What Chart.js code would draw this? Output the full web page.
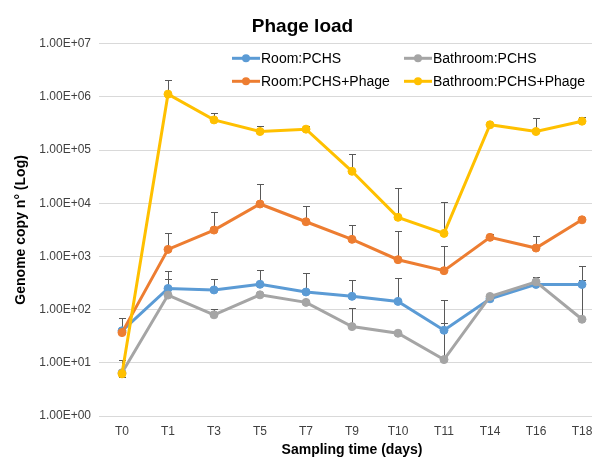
<!DOCTYPE html>
<html>
<head>
<meta charset="utf-8">
<script src="https://cdn.jsdelivr.net/npm/chart.js@4/dist/chart.umd.min.js"></script>
<style>
  html, body { margin: 0; padding: 0; background: #fff; overflow: hidden; }
  #wrap { position: relative; width: 615px; height: 458px; }
</style>
</head>
<body>
<div id="wrap"><canvas id="c" width="615" height="458"></canvas></div>
<script>
// ---- data ----
const categories = ["T0","T1","T3","T5","T7","T9","T10","T11","T14","T16","T18"];
const seriesNames = ["Room:PCHS","Bathroom:PCHS","Room:PCHS+Phage","Bathroom:PCHS+Phage"];
const roomPchs        = [40, 250, 235, 300, 215, 178, 143, 41, 160, 298, 298];
const bathroomPchs    = [6.5, 188, 80, 190, 137, 48, 36, 11.5, 177, 334, 66];
const roomPhage       = [37, 1360, 3140, 9700, 4500, 2100, 870, 540, 2290, 1440, 4900];
const bathroomPhage   = [6.2, 1130000, 370000, 224000, 248000, 40000, 5450, 2720, 300000, 224000, 350000];
// error bar upper / lower bounds (null = none)
const roomPchsHi      = [null, 530, 375, 555, 480, 355, 398, 151, null, null, 668];
const bathroomPchsHi  = [11.5, 371, 103, null, null, 108, null, 56, null, 404, 359];
const bathroomPchsLo  = [5.3, null, null, null, null, null, null, null, null, null, null];
const roomPhageHi     = [71, 2720, 6760, 22800, 9070, 3960, 3010, 1550, 2630, 2420, null];
const bathroomPhageHi = [null, 2100000, 510000, 280000, 290000, 86000, 19700, 10700, null, 410000, 420000];
const yTickValues = [1, 10, 100, 1000, 10000, 100000, 1000000, 10000000];
const yTickLabels = ["1.00E+00","1.00E+01","1.00E+02","1.00E+03","1.00E+04","1.00E+05","1.00E+06","1.00E+07"];
const colors = ["#5B9BD5", "#A5A5A5", "#ED7D31", "#FFC000"];

const values = [roomPchs, bathroomPchs, roomPhage, bathroomPhage];
const highs = [roomPchsHi, bathroomPchsHi, roomPhageHi, bathroomPhageHi];
const lows = [null, bathroomPchsLo, null, null];

const FONT = "'Liberation Sans', Arial, sans-serif";

const errorBars = {
  id: 'errorBars',
  beforeDatasetsDraw(chart) {
    const ctx = chart.ctx;
    const x = chart.scales.x, y = chart.scales.y;
    ctx.save();
    ctx.strokeStyle = '#595959';
    ctx.lineWidth = 1;
    [0,1,2,3].forEach(d => {
      const vals = values[d];
      const hi = highs[d], lo = lows[d];
      vals.forEach((v, i) => {
        const px = Math.round(x.getPixelForValue(i)) + 0.5;
        const py = y.getPixelForValue(v);
        const ends = [];
        if (hi && hi[i] != null) ends.push(y.getPixelForValue(hi[i]));
        if (lo && lo[i] != null) ends.push(y.getPixelForValue(lo[i]));
        ends.forEach(ey => {
          const eY = Math.round(ey) + 0.5;
          ctx.beginPath();
          ctx.moveTo(px, py);
          ctx.lineTo(px, eY);
          ctx.moveTo(px - 3.5, eY);
          ctx.lineTo(px + 3.5, eY);
          ctx.stroke();
        });
      });
    });
    ctx.restore();
  }
};

const customLegend = {
  id: 'customLegend',
  afterDraw(chart) {
    const ctx = chart.ctx;
    const a = chart.chartArea;
    const colX = [a.left + 133, a.left + 305];
    const rowY = [a.top + 14.5, a.top + 37.5];
    ctx.save();
    ctx.font = "14px " + FONT;
    ctx.textBaseline = 'middle';
    ctx.textAlign = 'left';
    seriesNames.forEach((name, i) => {
      const cx = colX[i % 2], cy = rowY[Math.floor(i / 2)];
      ctx.strokeStyle = colors[i];
      ctx.lineWidth = 3;
      ctx.beginPath();
      ctx.moveTo(cx, cy);
      ctx.lineTo(cx + 28, cy);
      ctx.stroke();
      ctx.fillStyle = colors[i];
      ctx.beginPath();
      ctx.arc(cx + 14, cy, 4, 0, Math.PI * 2);
      ctx.fill();
      ctx.fillStyle = '#000';
      ctx.fillText(name, cx + 29, cy + 0.5);
    });
    ctx.restore();
  }
};

const order = [4, 3, 2, 1];
new Chart(document.getElementById('c'), {
  type: 'line',
  data: {
    labels: categories,
    datasets: seriesNames.map((n, i) => ({
      label: n,
      data: values[i],
      borderColor: colors[i],
      backgroundColor: colors[i],
      pointBackgroundColor: colors[i],
      pointBorderColor: colors[i],
      borderWidth: 3,
      pointRadius: 4,
      pointBorderWidth: 1,
      tension: 0,
      order: order[i]
    }))
  },
  options: {
    responsive: false,
    animation: false,
    devicePixelRatio: 1,
    layout: { padding: { left: 0, right: 10, top: 0, bottom: 0 } },
    plugins: {
      legend: { display: false },
      tooltip: { enabled: false },
      title: {
        display: true,
        text: 'Phage load',
        color: '#000',
        font: { family: FONT, size: 19, weight: 'bold', lineHeight: 1.2 },
        padding: { top: 15, bottom: 6 }
      }
    },
    scales: {
      x: {
        type: 'category',
        offset: true,
        grid: { display: false, drawTicks: false },
        border: { display: false },
        ticks: { color: '#404040', font: { family: FONT, size: 12 }, padding: 8, maxRotation: 0, autoSkip: false },
        title: {
          display: true,
          text: 'Sampling time (days)',
          color: '#000',
          font: { family: FONT, size: 14, weight: 'bold', lineHeight: 1.1 },
          padding: { top: 0, bottom: 0 }
        },
        afterFit(scale) { scale.height = 42; }
      },
      y: {
        type: 'logarithmic',
        min: 1,
        max: 10000000,
        grid: { color: '#d9d9d9', lineWidth: 1, drawTicks: false },
        border: { display: false },
        ticks: {
          color: '#404040',
          font: { family: FONT, size: 12 },
          padding: 8,
          autoSkip: false,
          callback: (v) => { const k = yTickValues.indexOf(v); return k >= 0 ? yTickLabels[k] : ''; }
        },
        afterBuildTicks(scale) { scale.ticks = yTickValues.map(v => ({ value: v })); },
        title: {
          display: true,
          text: 'Genome copy n° (Log)',
          color: '#000',
          font: { family: FONT, size: 14, weight: 'bold', lineHeight: 1.2 },
          padding: { top: 13, bottom: 0 }
        },
        afterFit(scale) { scale.width = 99; }
      }
    }
  },
  plugins: [errorBars, customLegend]
});
</script>
</body>
</html>
